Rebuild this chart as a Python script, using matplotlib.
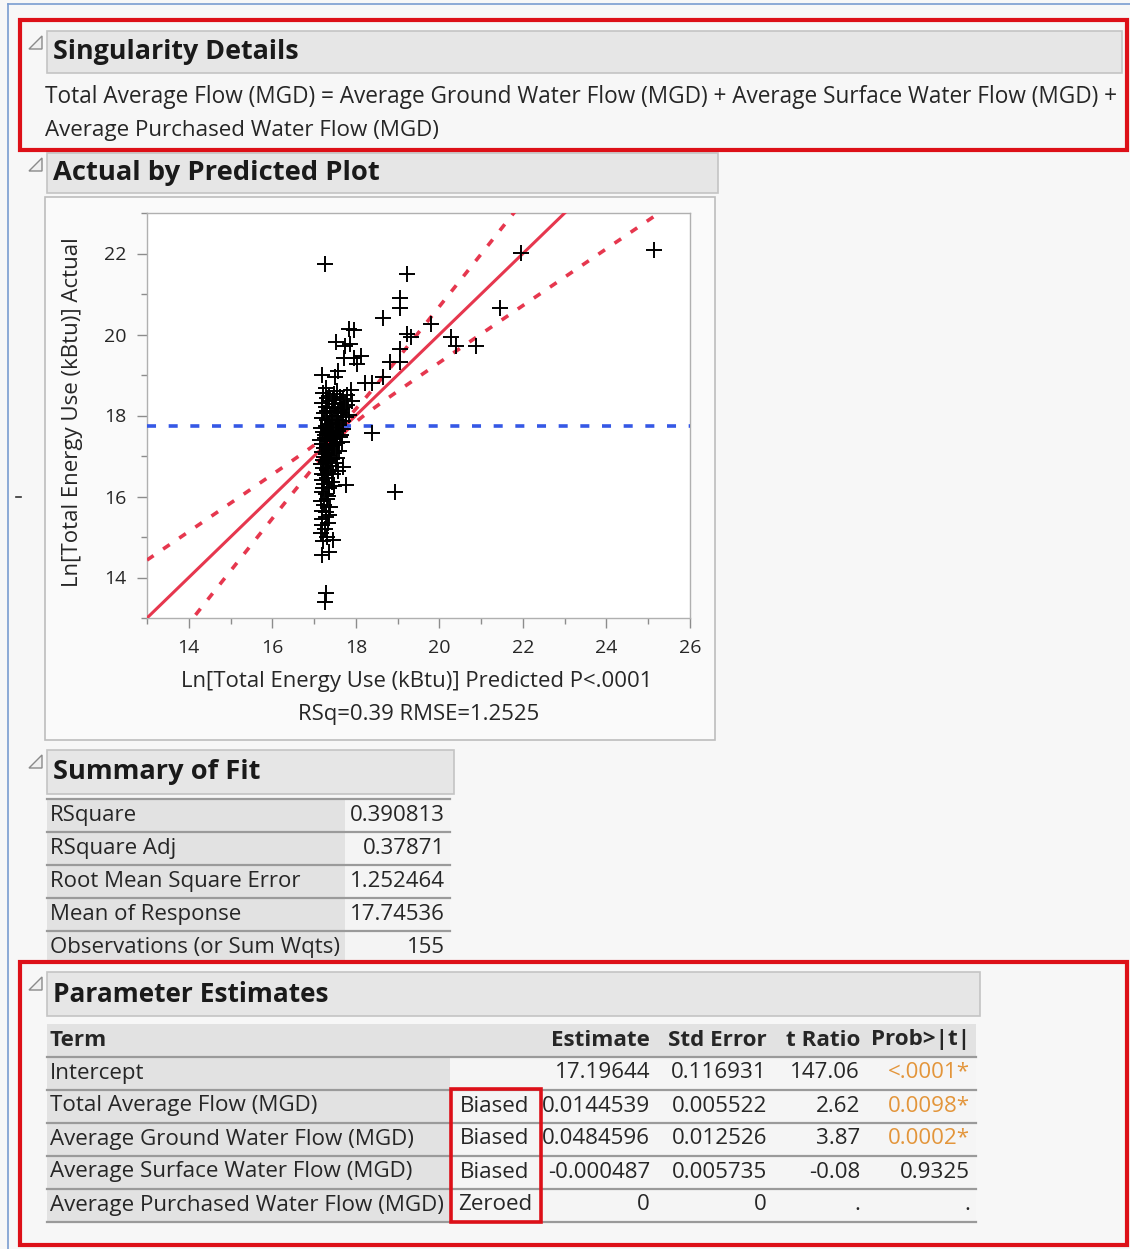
import numpy as np
import matplotlib
matplotlib.use("Agg")
import matplotlib.pyplot as plt
from matplotlib.patches import Rectangle, Polygon

plt.rcParams["font.family"] = ["Open Sans", "DejaVu Sans"]

# ---------------------------------------------------------------- data
# Actual vs. predicted Ln[Total Energy Use (kBtu)], 155 observations
predicted = [
    17.26, 19.22, 21.95, 25.13, 19.05, 19.05, 21.44, 18.65, 19.79, 17.83,
    17.95, 19.22, 19.32, 20.27, 17.52, 17.74, 17.86, 18.12, 17.95, 17.71,
    18.02, 19.05, 20.39, 20.87, 18.81, 19.05, 18.65, 18.38, 18.22, 17.19,
    17.28, 17.50, 17.57, 17.88, 17.90, 18.38, 18.93, 17.76, 17.69, 17.28,
    17.45, 17.19, 17.35, 17.28, 17.26,
    17.22, 17.35, 17.48, 17.62, 17.70, 17.30, 17.55, 17.78,
    17.20, 17.28, 17.36, 17.42, 17.50, 17.58, 17.64, 17.72, 17.80, 17.32, 17.46, 17.68,
    17.18, 17.24, 17.30, 17.38, 17.44, 17.52, 17.58, 17.64, 17.70, 17.76, 17.34, 17.48, 17.56, 17.84,
    17.16, 17.22, 17.28, 17.34, 17.40, 17.46, 17.52, 17.58, 17.64, 17.70, 17.26, 17.44, 17.60, 17.36,
    17.15, 17.20, 17.26, 17.32, 17.38, 17.44, 17.50, 17.56, 17.62, 17.30, 17.42, 17.24, 17.48, 17.68,
    17.18, 17.24, 17.30, 17.36, 17.42, 17.48, 17.54, 17.22, 17.34, 17.60, 17.28, 17.40,
    17.16, 17.22, 17.28, 17.34, 17.40, 17.46, 17.52, 17.20, 17.30, 17.38, 17.58, 17.26,
    17.18, 17.24, 17.30, 17.36, 17.42, 17.20, 17.28, 17.48, 17.34, 17.22,
    17.16, 17.24, 17.32, 17.20, 17.28, 17.38, 17.18, 17.36,
    17.20, 17.26, 17.16, 17.30, 17.22, 17.34,
]
actual = [
    21.74, 21.50, 22.01, 22.09, 20.91, 20.66, 20.66, 20.41, 20.27, 20.14,
    20.12, 20.02, 19.95, 19.95, 19.82, 19.72, 19.77, 19.48, 19.43, 19.43,
    19.26, 19.63, 19.72, 19.72, 19.31, 19.31, 18.94, 18.81, 18.81, 18.99,
    18.69, 18.94, 19.11, 18.62, 18.37, 17.56, 16.10, 16.28, 16.72, 15.61,
    14.92, 14.55, 14.63, 13.62, 13.39,
    18.55, 18.48, 18.52, 18.45, 18.40, 18.42, 18.60, 18.50,
    18.30, 18.22, 18.35, 18.18, 18.28, 18.12, 18.32, 18.20, 18.25, 18.10, 18.38, 18.15,
    17.95, 18.05, 17.88, 18.00, 17.84, 17.98, 17.90, 18.06, 17.86, 17.96, 17.80, 18.08, 17.82, 18.02,
    17.70, 17.60, 17.75, 17.55, 17.68, 17.58, 17.72, 17.62, 17.52, 17.66, 17.52, 17.78, 17.76, 17.64,
    17.40, 17.30, 17.45, 17.25, 17.38, 17.22, 17.42, 17.32, 17.46, 17.36, 17.48, 17.20, 17.28, 17.35,
    17.10, 16.98, 17.15, 17.02, 16.92, 17.08, 16.96, 16.90, 16.94, 17.12, 17.05, 17.18,
    16.80, 16.70, 16.85, 16.60, 16.75, 16.55, 16.82, 16.55, 16.65, 16.88, 16.62, 16.52,
    16.40, 16.30, 16.45, 16.20, 16.35, 16.10, 16.05, 16.25, 16.02, 16.22,
    15.90, 15.80, 15.95, 15.65, 15.50, 15.75, 15.45, 15.55,
    15.30, 15.20, 15.10, 15.00, 14.90, 15.35,
]

mean_response = 17.74536
rsq_text = "RSq=0.39 RMSE=1.2525"
xticks = [14, 16, 18, 20, 22, 24, 26]
yticks = [14, 16, 18, 20, 22]

singularity_lines = [
    "Total Average Flow (MGD) = Average Ground Water Flow (MGD) + Average Surface Water Flow (MGD) +",
    "Average Purchased Water Flow (MGD)",
]

fit_labels = ["RSquare", "RSquare Adj", "Root Mean Square Error",
              "Mean of Response", "Observations (or Sum Wqts)"]
fit_values = ["0.390813", "0.37871", "1.252464", "17.74536", "155"]

pe_columns = ["Term", "Estimate", "Std Error", "t Ratio", "Prob>|t|"]
pe_terms = ["Intercept", "Total Average Flow (MGD)", "Average Ground Water Flow (MGD)",
            "Average Surface Water Flow (MGD)", "Average Purchased Water Flow (MGD)"]
pe_flags = ["", "Biased", "Biased", "Biased", "Zeroed"]
pe_estimate = ["17.19644", "0.0144539", "0.0484596", "-0.000487", "0"]
pe_stderr = ["0.116931", "0.005522", "0.012526", "0.005735", "0"]
pe_tratio = ["147.06", "2.62", "3.87", "-0.08", "."]
pe_prob = ["<.0001*", "0.0098*", "0.0002*", "0.9325", "."]

# ---------------------------------------------------------------- styles
W, H = 1130, 1249
BG = "#f7f7f7"
BAR = "#e6e6e6"
BAR_EDGE = "#c4c4c4"
CELL = "#e2e2e2"
RULE = "#9a9a9a"
RED = "#dd1018"
FITRED = "#e6374e"
BLUE = "#3558e6"
ORANGE = "#e3953a"
TXT = "#262626"

fig = plt.figure(figsize=(W / 100, H / 100), dpi=100, facecolor=BG)
bg = fig.add_axes([0, 0, 1, 1])
bg.set_xlim(0, W)
bg.set_ylim(H, 0)
bg.axis("off")
renderer = fig.canvas.get_renderer()


def put(x, y, s, width=None, size=12, vertical=False, **kw):
    kw.setdefault("color", TXT)
    kw.setdefault("va", "center")
    t = bg.text(x, y, s, fontsize=size, **kw)
    if width is not None:
        bb = t.get_window_extent(renderer)
        span = bb.height if vertical else bb.width
        t.set_fontsize(size * width / span)
    return t


def fitted_size(s, width, size=12, weight="normal"):
    t = bg.text(0, 0, s, fontsize=size, weight=weight)
    w = t.get_window_extent(renderer).width
    t.remove()
    return size * width / w


def rect(x0, y0, x1, y1, **kw):
    bg.add_patch(Rectangle((x0, y0), x1 - x0, y1 - y0, **kw))


def header(x0, y0, x1, y1, title, title_w):
    rect(x0, y0, x1, y1, facecolor=BAR, edgecolor=BAR_EDGE, lw=1.2)
    bg.add_patch(Polygon([(29, y0 + 18), (42, y0 + 5), (42, y0 + 18)], closed=True,
                         facecolor="#f0f0f0", edgecolor="#8a8a8a", lw=1.0))
    put(x0 + 6, (y0 + y1) / 2, title, width=title_w, size=15, weight="bold", color="#1a1a1a")


# window frame
bg.plot([8, W], [4, 4], color="#7a9cd0", lw=1.2)
bg.plot([8, 8], [4, H], color="#7a9cd0", lw=1.2)
bg.plot([16, 21], [497, 497], color="#333333", lw=1.2)

# ---------------------------------------------------------------- singularity details
header(47, 31, 1122, 73, "Singularity Details", 247)
put(45, 97, singularity_lines[0], width=1072, size=13)
put(45, 130, singularity_lines[1], width=392, size=13)
rect(20, 20, 1127, 150, facecolor="none", edgecolor=RED, lw=3.0, zorder=5)

# ---------------------------------------------------------------- actual by predicted plot
header(47, 153, 718, 193, "Actual by Predicted Plot", 327)
rect(45, 197, 715, 740, facecolor="#fafafa", edgecolor="#bdbdbd", lw=1.2)

ax = fig.add_axes([147 / W, 1 - 618 / H, (690 - 147) / W, (618 - 213) / H])
ax.set_facecolor("white")
ax.set_xlim(13, 26)
ax.set_ylim(13, 23)
for sp in ax.spines.values():
    sp.set_color("#b0b0b0")
    sp.set_linewidth(1.0)
ax.set_xticks(xticks)
ax.set_yticks(yticks)
ax.set_xticks(np.arange(13, 27, 1), minor=True)
ax.set_yticks(np.arange(13, 24, 1), minor=True)
ax.tick_params(which="major", length=7, width=1, color="#8c8c8c",
               labelsize=14, labelcolor=TXT, pad=8)
ax.tick_params(which="minor", length=4, width=1, color="#8c8c8c")

# fit line (actual = predicted), confidence curves and mean reference line
xs = np.linspace(13, 26, 300)
half = np.sqrt(0.02 + (0.30 * (xs - mean_response)) ** 2)
ax.plot(xs, xs, color=FITRED, lw=2.2, zorder=3)
ax.plot(xs, xs + half, color=FITRED, lw=2.6, ls=(0, (2.2, 3.2)), zorder=3)
ax.plot(xs, xs - half, color=FITRED, lw=2.6, ls=(0, (2.2, 3.2)), zorder=3)
ax.axhline(mean_response, color=BLUE, lw=2.6, ls=(0, (2.5, 3.5)), zorder=3)
ax.plot(predicted, actual, ls="none", marker="+", ms=12, mew=1.4, color="black", zorder=4)

put(73, 412, "Ln[Total Energy Use (kBtu)] Actual", width=351, size=14, vertical=True,
    rotation=90, ha="center")
put(417, 681, "Ln[Total Energy Use (kBtu)] Predicted P<.0001", width=472, size=14, ha="center")
put(419, 714, rsq_text, width=242, size=14, ha="center")

# ---------------------------------------------------------------- summary of fit
header(47, 750, 454, 794, "Summary of Fit", 208)
fs_fit = fitted_size(fit_labels[4], 289, 13)
row_top = 799
for i, (lab, val) in enumerate(zip(fit_labels, fit_values)):
    y0 = row_top + 33 * i
    y1 = min(y0 + 33, 961)
    rect(47, y0, 345, y1, facecolor=CELL, edgecolor="none")
    rect(345, y0, 450, y1, facecolor="#f4f4f4", edgecolor="none")
    bg.plot([47, 450], [y0, y0], color=RULE, lw=1.6)
    put(50, y0 + 16, lab, size=fs_fit)
    put(445, y0 + 16, val, size=fs_fit, ha="right")

# ---------------------------------------------------------------- parameter estimates
header(47, 972, 980, 1016, "Parameter Estimates", 276)
fs_pe = fitted_size(pe_terms[4], 393, 13)
col_right = [None, 650, 767, 860, 970]

rect(47, 1024, 976, 1056, facecolor=CELL, edgecolor="none")
put(50, 1040, pe_columns[0], size=fs_pe, weight="bold")
for c in range(1, 5):
    put(col_right[c], 1040, pe_columns[c], size=fs_pe, weight="bold", ha="right")

for i in range(5):
    y0 = 1057 + 33 * i
    rect(47, y0, 450, y0 + 33, facecolor=CELL, edgecolor="none")
    rect(450, y0, 976, y0 + 33, facecolor="#f5f5f5", edgecolor="none")
    bg.plot([47, 976], [y0, y0], color=RULE, lw=1.6)
    yc = y0 + 16
    put(50, yc, pe_terms[i], size=fs_pe)
    if pe_flags[i]:
        put(495, yc, pe_flags[i], size=fs_pe, ha="center")
    put(col_right[1], yc, pe_estimate[i], size=fs_pe, ha="right")
    put(col_right[2], yc, pe_stderr[i], size=fs_pe, ha="right")
    put(col_right[3], yc, pe_tratio[i], size=fs_pe, ha="right")
    prob_color = ORANGE if pe_prob[i].endswith("*") else TXT
    put(col_right[4], yc, pe_prob[i], size=fs_pe, ha="right", color=prob_color)
bg.plot([47, 976], [1222, 1222], color=RULE, lw=1.6)

rect(451, 1089, 541, 1222, facecolor="none", edgecolor=RED, lw=2.6, zorder=5)
rect(20, 962, 1127, 1245, facecolor="none", edgecolor=RED, lw=3.0, zorder=5)

fig.savefig("out.png", dpi=100, facecolor=BG)
